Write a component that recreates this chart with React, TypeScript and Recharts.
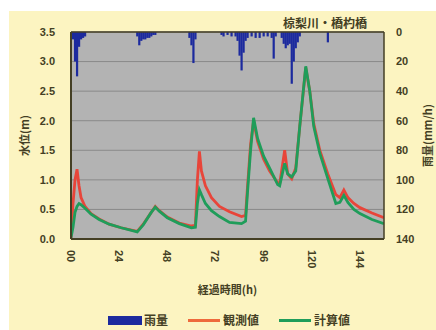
import { ComposedChart, Bar, Line, XAxis, YAxis, CartesianGrid, ReferenceLine, Label } from 'recharts';

// water level samples (h, m)
const hours = [0, 1, 2, 3, 4, 5, 7, 10, 14, 19, 25, 33, 36, 40, 42, 44, 48, 54, 60, 62, 63, 64, 65, 67, 70, 74, 79, 85, 87, 88, 89.5, 91, 93, 96, 99, 103, 104, 106.5, 108, 110, 112, 114, 117, 119, 121, 124, 128, 132, 134, 136, 138, 141, 144, 150, 156];
const observed = [0.02, 0.6, 1.0, 1.18, 0.9, 0.7, 0.55, 0.43, 0.34, 0.25, 0.19, 0.13, 0.25, 0.45, 0.55, 0.48, 0.37, 0.27, 0.22, 0.23, 1.0, 1.48, 1.15, 0.9, 0.7, 0.55, 0.46, 0.38, 0.4, 0.9, 1.6, 2.0, 1.65, 1.35, 1.15, 0.95, 0.93, 1.5, 1.1, 1.02, 1.2, 1.9, 2.9, 2.5, 1.95, 1.5, 1.1, 0.75, 0.7, 0.83, 0.7, 0.6, 0.53, 0.44, 0.36];
const computed = [0.02, 0.2, 0.45, 0.55, 0.6, 0.58, 0.52, 0.42, 0.33, 0.25, 0.19, 0.12, 0.24, 0.45, 0.54, 0.47, 0.36, 0.26, 0.19, 0.2, 0.6, 0.83, 0.75, 0.6, 0.48, 0.38, 0.28, 0.26, 0.3, 0.8, 1.5, 2.05, 1.7, 1.4, 1.2, 0.92, 0.9, 1.28, 1.1, 1.05, 1.15, 1.9, 2.92, 2.5, 1.9, 1.45, 1.02, 0.6, 0.62, 0.74, 0.62, 0.5, 0.43, 0.33, 0.26];

// hourly rainfall (h, mm/h)
const rainHours = [1, 2, 3, 4, 5, 6, 7, 33, 34, 35, 36, 37, 38, 39, 40, 41, 42, 59, 60, 61, 62, 75, 76, 78, 80, 82, 83, 84, 85, 86, 87, 88, 90, 92, 94, 96, 98, 100, 101, 102, 105, 106, 107, 108, 109, 110, 111, 112, 113, 114, 128];
const rainfall = [5, 20, 30, 10, 5, 4, 3, 3, 9, 6, 5, 5, 4, 4, 3, 2, 2, 4, 9, 21, 5, 2, 3, 2, 3, 3, 6, 16, 26, 14, 6, 4, 3, 4, 4, 3, 3, 4, 18, 3, 4, 8, 11, 9, 8, 35, 20, 11, 7, 3, 7];

const xTicks = [0, 24, 48, 72, 96, 120, 144];
const levelTicks = [0, 0.5, 1, 1.5, 2, 2.5, 3, 3.5];
const rainTicks = [0, 20, 40, 60, 80, 100, 120, 140];

type Row = { h: number; obs?: number; calc?: number; rain?: number };

const rows = new Map<number, Row>();
hours.forEach((h, i) => rows.set(h, { h, obs: observed[i], calc: computed[i] }));
rainHours.forEach((h, i) => {
  const r = rows.get(h) ?? { h };
  r.rain = rainfall[i];
  rows.set(h, r);
});
const data = [...rows.values()].sort((a, b) => a.h - b.h);

const ink = '#443f24';
const rainBlue = '#1c2a9e';
const tickFont = { fontSize: 11, fontWeight: 700, fill: ink, fontFamily: 'Liberation Sans, Arial, sans-serif' };
const jpFont = '"Noto Sans CJK JP", sans-serif';

const XTick = ({ x, y, payload }: any) => (
  <text
    x={x}
    y={y}
    transform={`rotate(90 ${x} ${y})`}
    textAnchor="start"
    dominantBaseline="central"
    {...tickFont}
  >
    {payload.value === 0 ? '00' : payload.value}
  </text>
);

// bar drawn as a plain 2px rect so thin bars stay solid
const RainBar = ({ x, y, width, height }: any) => {
  if (!height) return null;
  const top = Math.min(y, y + height);
  return <rect x={x + width / 2 - 1} y={top} width={2.2} height={Math.abs(height)} fill={rainBlue} />;
};

export default function App() {
  return (
    <div style={{ position: 'absolute', left: 0, top: 0, width: 436, height: 330, background: '#fff' }}>
      <div style={{ position: 'absolute', left: 9, top: 11, width: 427, height: 319, background: '#fcf4c1' }} />
      <div style={{ position: 'absolute', left: 0, top: 0 }}>
        <ComposedChart width={436} height={330} data={data} barSize={2} margin={{ top: 32, right: 0, bottom: 31, left: 0 }}>
          <CartesianGrid yAxisId="level" vertical={false} fill="#b3b3b3" stroke="#8a8a8a" strokeWidth={1} ticks={levelTicks} />
          <XAxis
            dataKey="h"
            type="number"
            domain={[0, 156]}
            ticks={xTicks}
            allowDataOverflow
            height={60}
            tickSize={0}
            tickMargin={11}
            tick={<XTick />}
            stroke={ink}
            strokeWidth={2}
          >
            <Label
              value="経過時間(h)"
              position="insideBottom"
              offset={5}
              style={{ fontSize: 11, fontWeight: 700, fill: ink, fontFamily: jpFont }}
            />
          </XAxis>
          <YAxis
            yAxisId="level"
            domain={[0, 3.5]}
            ticks={levelTicks}
            width={71}
            tickSize={0}
            tickMargin={16}
            tickFormatter={(v: number) => v.toFixed(1)}
            tick={tickFont}
            stroke={ink}
            strokeWidth={2}
          >
            <Label
              content={({ viewBox }: any) => (
                <text
                  x={24}
                  y={viewBox.y + viewBox.height / 2}
                  transform={`rotate(-90 24 ${viewBox.y + viewBox.height / 2})`}
                  textAnchor="middle"
                  dominantBaseline="central"
                  fontSize={11}
                  fontWeight={700}
                  fill={ink}
                  fontFamily={jpFont}
                >
                  水位(m)
                </text>
              )}
            />
          </YAxis>
          <YAxis
            yAxisId="rain"
            orientation="right"
            reversed
            domain={[0, 140]}
            ticks={rainTicks}
            width={52}
            tickSize={0}
            tickMargin={12}
            tick={{ ...tickFont, textAnchor: 'start' }}
            stroke={ink}
            strokeWidth={1.5}
          >
            <Label
              content={({ viewBox }: any) => (
                <text
                  x={427}
                  y={viewBox.y + viewBox.height / 2}
                  transform={`rotate(-90 427 ${viewBox.y + viewBox.height / 2})`}
                  textAnchor="middle"
                  dominantBaseline="central"
                  fontSize={11}
                  fontWeight={700}
                  fill={ink}
                  fontFamily={jpFont}
                >
                  雨量(mm/h)
                </text>
              )}
            />
          </YAxis>
          <ReferenceLine yAxisId="level" y={3.5} stroke={ink} strokeWidth={1.5} />
          <Bar yAxisId="rain" dataKey="rain" fill={rainBlue} shape={<RainBar />} isAnimationActive={false} />
          <Line
            yAxisId="level"
            dataKey="obs"
            type="linear"
            stroke="#e8453a"
            strokeWidth={2.8}
            dot={false}
            connectNulls
            isAnimationActive={false}
          />
          <Line
            yAxisId="level"
            dataKey="calc"
            type="linear"
            stroke="#1f9d5a"
            strokeWidth={2.8}
            dot={false}
            connectNulls
            isAnimationActive={false}
          />
          <text x={325} y={22} textAnchor="middle" dominantBaseline="central" fontSize={12} fontWeight={700} fill={ink} fontFamily={jpFont}>
            椋梨川・橋杓橋
          </text>
        </ComposedChart>
      </div>
      <div
        style={{
          position: 'absolute',
          left: 108,
          top: 311,
          display: 'flex',
          alignItems: 'center',
          fontFamily: jpFont,
          fontSize: 12,
          fontWeight: 700,
          color: ink,
          lineHeight: '18px',
        }}
      >
        <span style={{ width: 34, height: 9, background: rainBlue, marginRight: 2 }} />
        <span>雨量</span>
        <span style={{ width: 32, height: 3, background: '#ee6a3c', marginLeft: 20, marginRight: 3 }} />
        <span>観測値</span>
        <span style={{ width: 32, height: 3, background: '#1f9d5a', marginLeft: 20, marginRight: 3 }} />
        <span>計算値</span>
      </div>
    </div>
  );
}
